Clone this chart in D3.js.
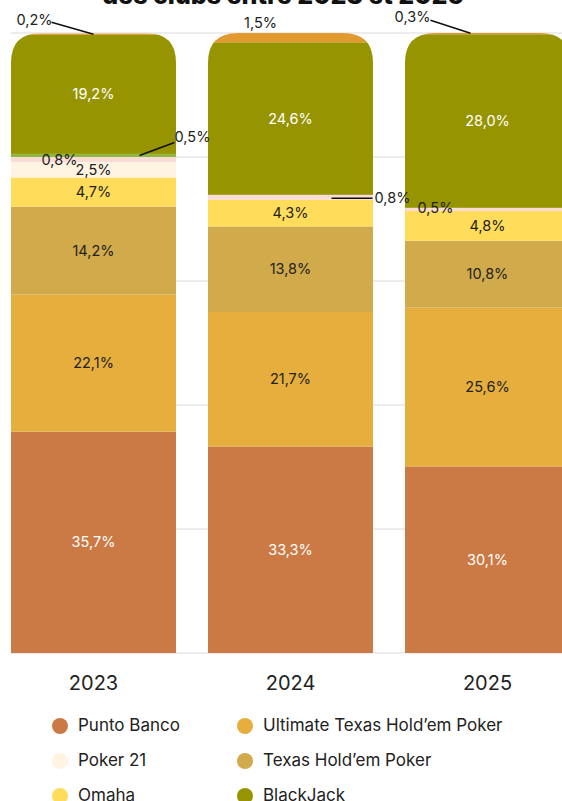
<!DOCTYPE html>
<html>
<head>
<meta charset="utf-8">
<script src="https://cdn.jsdelivr.net/npm/d3@7"></script>
<style>
  body { margin: 0; background: #fff; }
  svg { display: block; font-family: Inter, "Noto Sans", sans-serif; }
</style>
</head>
<body>
<svg width="562" height="801"></svg>
<script>
const years = ["2023", "2024", "2025"];

// series from bottom to top of the stack
const series = [
  "Punto Banco", "Ultimate Texas Hold’em Poker", "Texas Hold’em Poker", "Omaha",
  "Poker 21", "Three Card Poker", "Stud Poker", "BlackJack", "Baccara"
];
const colors = [
  "#cb7a45", "#e6ae3c", "#d0aa4b", "#ffdc5a",
  "#fff3e2", "#f9dcd8", "#8fb83c", "#979402", "#e09a30"
];
const values = [
  [35.7, 33.3, 30.1],
  [22.1, 21.7, 25.6],
  [14.2, 13.8, 10.8],
  [4.7, 4.3, 4.8],
  [2.5, 0, 0],
  [0.8, 0.8, 0.5],
  [0.5, 0, 0],
  [19.2, 24.6, 28.0],
  [0.2, 1.5, 0.3]
];
const gridTicks = [0, 20, 40, 60, 80, 100];

// label placement for the thin segments (series index - year index),
// offsets relative to the segment centre
const labelTweaks = {
  "5-0": { dx: -34, dy: 0 },
  "6-0": { dx: 99, dy: -19, line: [[46, 0], [81, -13]] },
  "8-0": { dx: -59, dy: -14, line: [[-42, -12], [0, 0]] },
  "5-1": { dx: 102, dy: 1, line: [[41, 1], [82, 1]] },
  "8-1": { dx: -30, dy: -15 },
  "5-2": { dx: -52, dy: -1 },
  "8-2": { dx: -75, dy: -16, line: [[-57, -13], [-17, 0]] }
};
const whiteText = new Set([0, 7]);

const svg = d3.select("svg");

const x = d3.scaleBand().domain(years).range([11, 570]).paddingInner(0.1624).paddingOuter(0);
const y = d3.scaleLinear().domain([0, 100]).range([653, 33]);

// title, mostly cut off at the top
svg.append("text")
  .attr("x", 283).attr("y", 4)
  .attr("text-anchor", "middle")
  .attr("font-size", 25).attr("font-weight", 800).attr("fill", "#111")
  .text("des clubs entre 2023 et 2025");

// gridlines
svg.append("g").selectAll("line")
  .data(gridTicks)
  .join("line")
  .attr("x1", 11).attr("x2", 562)
  .attr("y1", d => y(d)).attr("y2", d => y(d))
  .attr("stroke", "#dcdcdc").attr("stroke-width", 1.2);

// stack
const table = years.map((yr, j) => {
  const row = { year: yr };
  series.forEach((s, i) => row[s] = values[i][j]);
  return row;
});
const stacked = d3.stack().keys(series)(table);

// rounded top corners via clip paths
const r = 30;
const defs = svg.append("defs");
years.forEach((yr, j) => {
  const x0 = x(yr), w = x.bandwidth(), top = y(100), bot = y(0);
  defs.append("clipPath").attr("id", "clip" + j)
    .append("path")
    .attr("d", `M${x0},${bot} L${x0},${top + r} Q${x0},${top} ${x0 + r},${top} L${x0 + w - r},${top} Q${x0 + w},${top} ${x0 + w},${top + r} L${x0 + w},${bot} Z`);
});

const bars = svg.append("g");
stacked.forEach((layer, i) => {
  layer.forEach((d, j) => {
    if (values[i][j] === 0) return;
    bars.append("rect")
      .attr("clip-path", `url(#clip${j})`)
      .attr("x", x(years[j]))
      .attr("width", x.bandwidth())
      .attr("y", y(d[1]))
      .attr("height", y(d[0]) - y(d[1]))
      .attr("fill", colors[i]);
  });
});

// value labels
const fmt = v => d3.format(".1f")(v).replace(".", ",") + "%";
const labels = svg.append("g").attr("font-size", 14.5);
stacked.forEach((layer, i) => {
  layer.forEach((d, j) => {
    const v = values[i][j];
    if (v === 0) return;
    const cx = x(years[j]) + x.bandwidth() / 2;
    const cy = y((d[0] + d[1]) / 2);
    const t = labelTweaks[i + "-" + j] || { dx: 0, dy: 0 };
    if (t.line) {
      labels.append("line")
        .attr("x1", cx + t.line[0][0])
        .attr("y1", cy + t.line[0][1])
        .attr("x2", cx + t.line[1][0])
        .attr("y2", cy + t.line[1][1])
        .attr("stroke", "#111").attr("stroke-width", 1.6);
    }
    labels.append("text")
      .attr("x", cx + t.dx).attr("y", cy + t.dy)
      .attr("dy", "0.35em")
      .attr("text-anchor", "middle")
      .attr("fill", whiteText.has(i) ? "#fff" : "#222")
      .text(fmt(v));
  });
});

// year axis labels
svg.append("g").selectAll("text")
  .data(years)
  .join("text")
  .attr("x", d => x(d) + x.bandwidth() / 2)
  .attr("y", 690)
  .attr("text-anchor", "middle")
  .attr("font-size", 20).attr("fill", "#222")
  .text(d => d);

// legend (rows filled left then right)
const legend = svg.append("g").attr("font-size", 17).attr("fill", "#222");
const legendOrder = [0, 1, 4, 2, 3, 7, 5, 6, 8];
legendOrder.forEach((si, k) => {
  const col = k % 2, row = Math.floor(k / 2);
  const lx = col === 0 ? 60 : 245;
  const ly = 725 + row * 35;
  legend.append("circle").attr("cx", lx).attr("cy", ly + 1).attr("r", 8).attr("fill", colors[si]);
  legend.append("text").attr("x", lx + 18).attr("y", ly).attr("dy", "0.35em").text(series[si]);
});
</script>
</body>
</html>
